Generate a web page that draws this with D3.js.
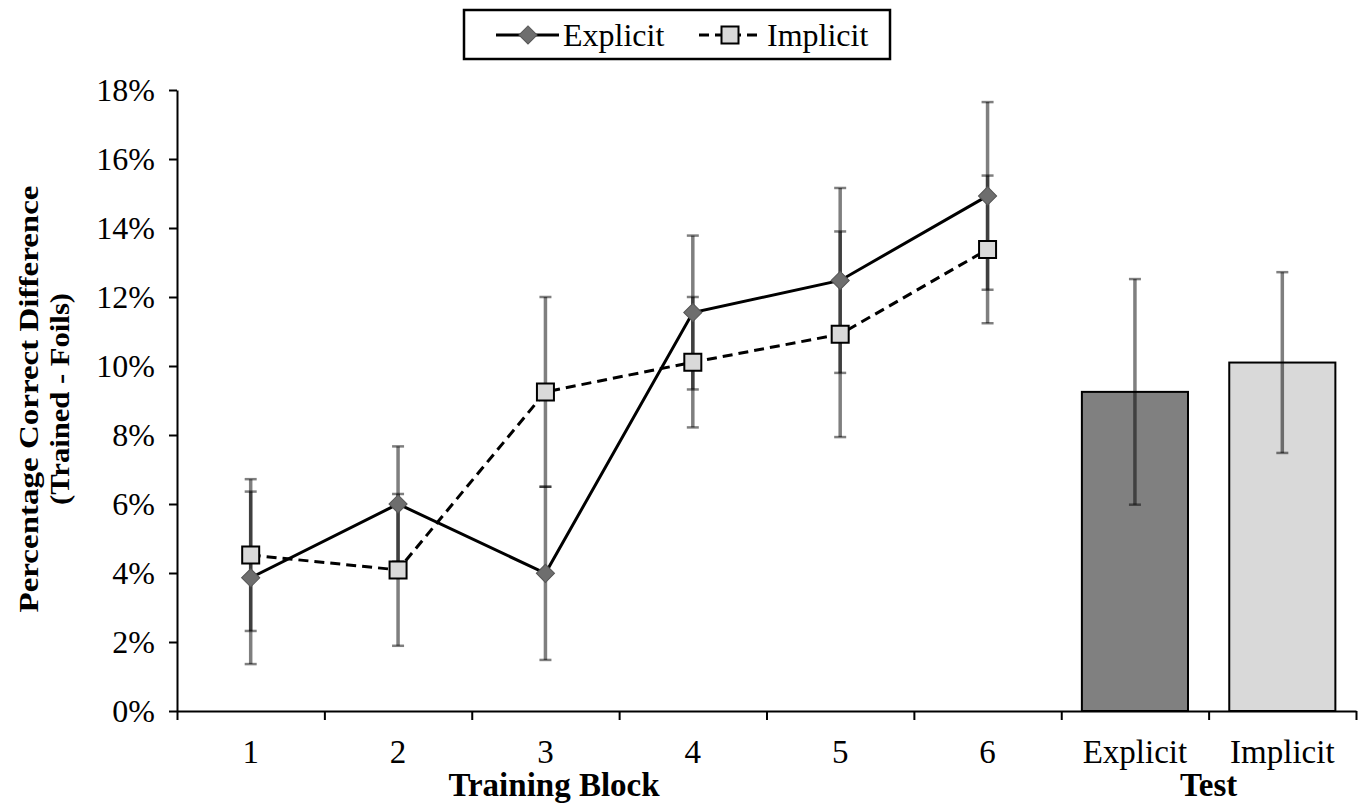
<!DOCTYPE html>
<html><head><meta charset="utf-8">
<script src="https://cdn.jsdelivr.net/npm/d3@7"></script>
<style>body{margin:0;background:#fff} text{font-family:"Liberation Serif","Times New Roman",serif;fill:#000}</style>
</head><body><svg id="c" width="1361" height="804"></svg>
<script>
const blocks = ["1","2","3","4","5","6"];
const testCats = ["Explicit","Implicit"];
const categories = blocks.concat(testCats);
const explicitMean = [3.86, 6.0, 3.99, 11.55, 12.48, 14.93];
const explicitErr  = [2.5, 1.67, 2.51, 2.23, 2.68, 2.72];
const implicitMean = [4.52, 4.09, 9.25, 10.11, 10.92, 13.38];
const implicitErr  = [2.2, 2.2, 2.75, 1.89, 2.98, 2.14];
const testMean = [9.25, 10.1];
const testErr  = [3.27, 2.62];
const yTicks = [0,2,4,6,8,10,12,14,16,18];

const svg = d3.select("#c");
const L = 177, R = 1356, T = 90, B = 711;
const y = d3.scaleLinear().domain([0,18]).range([B,T]);
const x = d3.scaleBand().domain(categories).range([L,R]).padding(0);
const xb = d3.scaleLinear().domain([0,categories.length]).range([L,R]);
const cx = c => x(c) + x.bandwidth()/2;
const barW = x.bandwidth()*0.72;
const FS = 32;

// bars
svg.append("g").selectAll("rect").data(testCats).join("rect")
  .attr("x", c => cx(c) - barW/2)
  .attr("y", (c,i) => y(testMean[i]))
  .attr("width", barW)
  .attr("height", (c,i) => y(0) - y(testMean[i]))
  .attr("fill", (c,i) => i===0 ? "#808080" : "#d9d9d9")
  .attr("stroke", "#000").attr("stroke-width", 2);

// error bars
function errBars(cats, mean, err){
  const g = svg.append("g").attr("stroke","#000").attr("stroke-opacity",0.5);
  cats.forEach((c,i) => {
    const xc = cx(c);
    g.append("line").attr("x1",xc).attr("x2",xc).attr("y1",y(mean[i]+err[i])).attr("y2",y(mean[i]-err[i])).attr("stroke-width",3.5);
    [mean[i]+err[i], mean[i]-err[i]].forEach(v => {
      g.append("line").attr("x1",xc-6).attr("x2",xc+6).attr("y1",y(v)).attr("y2",y(v)).attr("stroke-width",2.5);
    });
  });
}
errBars(testCats, testMean, testErr);
errBars(blocks, explicitMean, explicitErr);
errBars(blocks, implicitMean, implicitErr);

// lines
const line = d3.line().x(d => cx(d.c)).y(d => y(d.v));
svg.append("path").datum(blocks.map((c,i)=>({c, v: implicitMean[i]})))
  .attr("d", line).attr("fill","none").attr("stroke","#000").attr("stroke-width",3).attr("stroke-dasharray","10,6");
svg.append("path").datum(blocks.map((c,i)=>({c, v: explicitMean[i]})))
  .attr("d", line).attr("fill","none").attr("stroke","#000").attr("stroke-width",3);

// markers
const sq = d3.symbol(d3.symbolSquare, 289);
const dia = d3.symbol(d3.symbolSquare, 165);
svg.append("g").selectAll("path").data(blocks).join("path")
  .attr("d", dia).attr("transform", (c,i) => `translate(${cx(c)},${y(explicitMean[i])}) rotate(45)`)
  .attr("fill","#6e6e6e").attr("stroke","#555").attr("stroke-width",1);
svg.append("g").selectAll("path").data(blocks).join("path")
  .attr("d", sq).attr("transform", (c,i) => `translate(${cx(c)},${y(implicitMean[i])})`)
  .attr("fill","#d9d9d9").attr("stroke","#000").attr("stroke-width",2);

// y axis
const ya = svg.append("g").attr("transform",`translate(${L},0)`)
  .call(d3.axisLeft(y).tickValues(yTicks).tickFormat(d => d+"%").tickSize(8).tickSizeOuter(0));
ya.select(".domain").attr("stroke","#000").attr("stroke-width",2);
ya.selectAll(".tick line").attr("stroke","#000").attr("stroke-width",2);
ya.selectAll("text").attr("font-size",FS).attr("x",-22).attr("dy","0.34em").style("font-family",'"Liberation Serif",serif');

// x axis ticks at boundaries
const xa = svg.append("g").attr("transform",`translate(0,${B})`)
  .call(d3.axisBottom(xb).tickValues(d3.range(categories.length+1)).tickFormat("").tickSize(9).tickSizeOuter(0));
xa.select(".domain").attr("stroke","#000").attr("stroke-width",2);
xa.selectAll(".tick line").attr("stroke","#000").attr("stroke-width",2);
// x labels
const xl = svg.append("g").attr("transform",`translate(0,${B})`)
  .call(d3.axisBottom(x).tickSize(0));
xl.select(".domain").remove();
xl.selectAll("text").attr("font-size",33).attr("y",29).attr("dy","0.71em").style("font-family",'"Liberation Serif",serif');

// axis titles
svg.append("text").attr("x",554).attr("y",796).attr("text-anchor","middle").attr("font-size",33).attr("font-weight","bold").text("Training Block");
svg.append("text").attr("x",(cx("Explicit")+cx("Implicit"))/2).attr("y",796).attr("text-anchor","middle").attr("font-size",33).attr("font-weight","bold").text("Test");
svg.append("text").attr("transform","translate(28,399) rotate(-90)").attr("text-anchor","middle").attr("dy","0.35em")
  .attr("font-size",28).attr("font-weight","bold").attr("textLength",427).attr("lengthAdjust","spacingAndGlyphs")
  .text("Percentage Correct Difference");
svg.append("text").attr("transform","translate(59,399) rotate(-90)").attr("text-anchor","middle").attr("dy","0.35em")
  .attr("font-size",28).attr("font-weight","bold").attr("textLength",212).attr("lengthAdjust","spacingAndGlyphs")
  .text("(Trained - Foils)");

// legend
const lg = svg.append("g");
lg.append("rect").attr("x",464).attr("y",10).attr("width",426).attr("height",49).attr("fill","#fff").attr("stroke","#000").attr("stroke-width",2.5);
lg.append("line").attr("x1",496).attr("x2",559).attr("y1",35).attr("y2",35).attr("stroke","#000").attr("stroke-width",3);
lg.append("path").attr("d",dia).attr("transform","translate(528,35) rotate(45)").attr("fill","#6e6e6e").attr("stroke","#555");
lg.append("text").attr("x",563).attr("y",35).attr("dy","0.35em").attr("font-size",FS).text("Explicit");
lg.append("line").attr("x1",699).attr("x2",762).attr("y1",35).attr("y2",35).attr("stroke","#000").attr("stroke-width",3).attr("stroke-dasharray","10,6");
lg.append("path").attr("d",sq).attr("transform","translate(730,35)").attr("fill","#d9d9d9").attr("stroke","#000").attr("stroke-width",2);
lg.append("text").attr("x",767).attr("y",35).attr("dy","0.35em").attr("font-size",FS).text("Implicit");
</script></body></html>
